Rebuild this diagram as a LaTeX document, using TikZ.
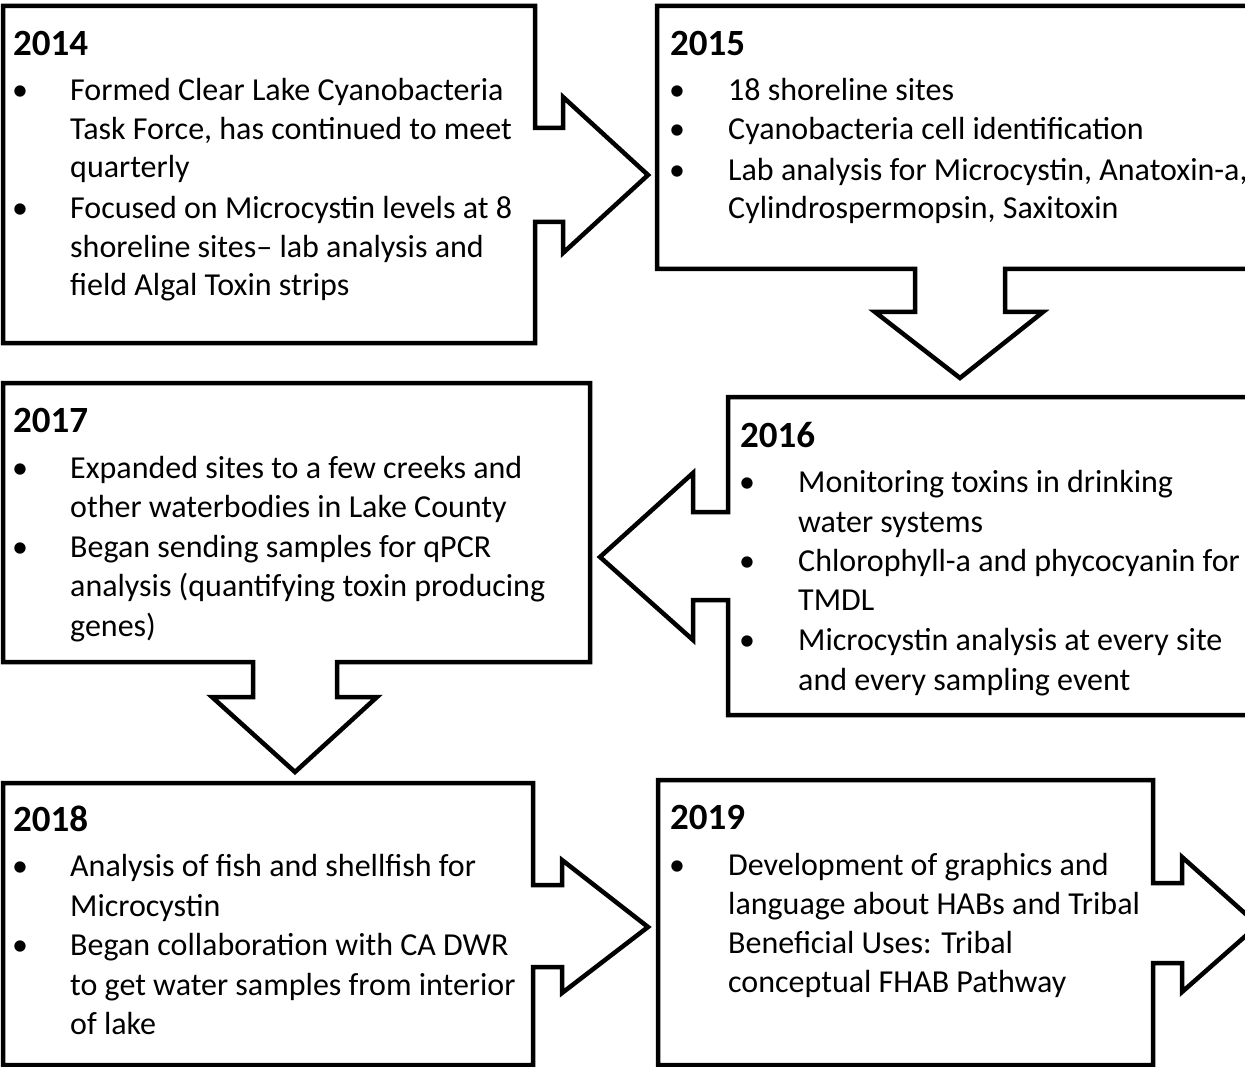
\documentclass[tikz,border=0pt]{standalone}
\usepackage{fontspec}
\setmainfont{Carlito}
\newcommand\bodyfnt{\fontsize{32}{39}\selectfont}
\newcommand\headfnt{\fontsize{37}{42}\selectfont\bfseries}
\tikzset{
  boxline/.style={line width=4.5pt, line join=miter, draw=black},
  txt/.style={anchor=base west, inner sep=0pt, font=\bodyfnt, text=black},
  hdr/.style={anchor=base west, inner sep=0pt, font=\headfnt, text=black},
  bul/.style={anchor=base, inner sep=0pt, font=\bodyfnt, text=black}
}
\newcommand\txtline[4]{\node[txt] (#1) at (#2,#3) {#4};}
\newcommand\bulat[3]{\node[bul] (#1) at (#2,#3) {\textbullet};}
\begin{document}
\begin{tikzpicture}[x=1pt,y=-1pt]
\useasboundingbox (0,0) rectangle (1245,1067);
\clip (0,0) rectangle (1245,1067);
% shapes
\draw[boxline] (3,6) -- (535,6) -- (535,128) -- (563,128) -- (563,97) -- (648,175) -- (563,253) -- (563,222) -- (535,222) -- (535,343) -- (3,343) -- cycle;
\draw[boxline] (657,6) -- (1270,6) -- (1270,269) -- (1005,269) -- (1005,312) -- (1043,312) -- (960,378) -- (875,312) -- (915,312) -- (915,269) -- (657,269) -- cycle;
\draw[boxline] (728,397) -- (1270,397) -- (1270,715) -- (728,715) -- (728,600) -- (693,600) -- (693,640) -- (600,557) -- (693,473) -- (693,512) -- (728,512) -- cycle;
\draw[boxline] (3,383) -- (590,383) -- (590,662) -- (337,662) -- (337,697) -- (377,697) -- (295,772) -- (212,697) -- (253,697) -- (253,662) -- (3,662) -- cycle;
\draw[boxline] (3,783) -- (533,783) -- (533,885) -- (562,885) -- (562,860) -- (648,927) -- (562,993) -- (562,967) -- (533,967) -- (533,1065) -- (3,1065) -- cycle;
\draw[boxline] (658,780) -- (1153,780) -- (1153,883) -- (1182,883) -- (1182,857) -- (1258,925) -- (1182,992) -- (1182,963) -- (1153,963) -- (1153,1065) -- (658,1065) -- cycle;
% 2014
\node[hdr] (h14) at (13,56) {2014};
\bulat{b14a}{20}{101}
\txtline{t14a}{70}{101}{Formed Clear Lake Cyanobacteria}
\txtline{t14b}{70}{140}{Task Force, has continued to meet}
\txtline{t14c}{70}{178}{quarterly}
\bulat{b14b}{20}{219}
\txtline{t14d}{70}{219}{Focused on Microcystin levels at 8}
\txtline{t14e}{70}{258}{shoreline sites– lab analysis and}
\txtline{t14f}{70}{296}{field Algal Toxin strips}
% 2015
\node[hdr] (h15) at (670,56) {2015};
\bulat{b15a}{677}{101}
\txtline{t15a}{728}{101}{18 shoreline sites}
\bulat{b15b}{677}{140}
\txtline{t15b}{728}{140}{Cyanobacteria cell identification}
\bulat{b15c}{677}{181}
\txtline{t15c}{728}{181}{Lab analysis for Microcystin, Anatoxin-a,}
\txtline{t15d}{728}{219}{Cylindrospermopsin, Saxitoxin}
% 2016
\node[hdr] (h16) at (740,447) {2016};
\bulat{b16a}{747}{492}
\txtline{t16a}{798}{492}{Monitoring toxins in drinking}
\txtline{t16b}{798}{532}{water systems}
\bulat{b16b}{747}{571}
\txtline{t16c}{798}{571}{Chlorophyll-a and phycocyanin for}
\txtline{t16d}{798}{610}{TMDL}
\bulat{b16c}{747}{650}
\txtline{t16e}{798}{650}{Microcystin analysis at every site}
\txtline{t16f}{798}{690}{and every sampling event}
% 2017
\node[hdr] (h17) at (13,432) {2017};
\bulat{b17a}{20}{478}
\txtline{t17a}{70}{478}{Expanded sites to a few creeks and}
\txtline{t17b}{70}{517}{other waterbodies in Lake County}
\bulat{b17b}{20}{557}
\txtline{t17c}{70}{557}{Began sending samples for qPCR}
\txtline{t17d}{70}{596}{analysis (quantifying toxin producing}
\txtline{t17e}{70}{636}{genes)}
% 2018
\node[hdr] (h18) at (13,831) {2018};
\bulat{b18a}{20}{876}
\txtline{t18a}{70}{876}{Analysis of fish and shellfish for}
\txtline{t18b}{70}{916}{Microcystin}
\bulat{b18b}{20}{955}
\txtline{t18c}{70}{955}{Began collaboration with CA DWR}
\txtline{t18d}{70}{995}{to get water samples from interior}
\txtline{t18e}{70}{1034}{of lake}
% 2019
\node[hdr] (h19) at (670,829) {2019};
\bulat{b19a}{677}{875}
\txtline{t19a}{728}{875}{Development of graphics and}
\txtline{t19b}{728}{914}{language about HABs and Tribal}
\txtline{t19c}{728}{953}{Beneficial Uses: Tribal}
\txtline{t19d}{728}{992}{conceptual FHAB Pathway}
\end{tikzpicture}
\end{document}
